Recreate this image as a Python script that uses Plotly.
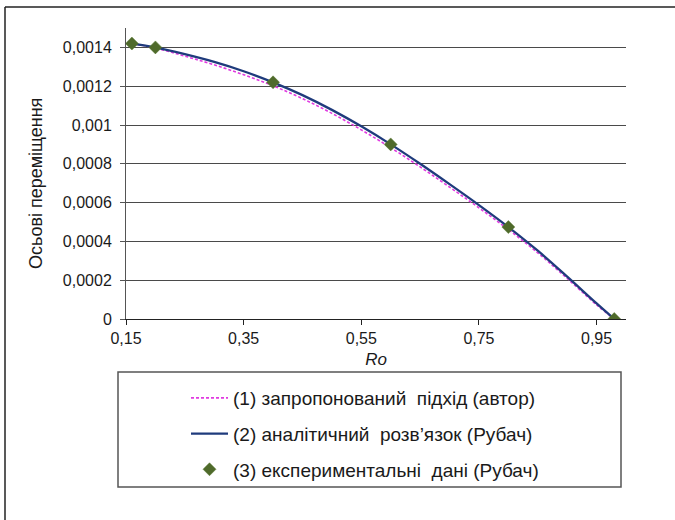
import plotly.graph_objects as go

# Radial coordinate Ro (curve sampling) and axial displacement values
ro_curve = [0.16, 0.20, 0.25, 0.30, 0.35, 0.40, 0.45, 0.50, 0.55, 0.60,
            0.65, 0.70, 0.75, 0.80, 0.85, 0.90, 0.95, 0.98]

# (1) proposed approach (author)
w_proposed = [0.001420, 0.001397, 0.001355, 0.001310, 0.001259, 0.001202,
              0.001136, 0.001060, 0.000975, 0.000883, 0.000784, 0.000680,
              0.000573, 0.000461, 0.000341, 0.000209, 0.000073, 0.0]

# (2) analytical solution (Rubach)
w_analytic = [0.001420, 0.001400, 0.001365, 0.001325, 0.001277, 0.001220,
              0.001154, 0.001078, 0.000993, 0.000900, 0.000800, 0.000695,
              0.000587, 0.000474, 0.000352, 0.000218, 0.000080, 0.0]

# (3) experimental data (Rubach)
ro_exp = [0.16, 0.20, 0.40, 0.60, 0.80, 0.98]
w_exp = [0.00142, 0.00140, 0.00122, 0.00090, 0.000474, 0.0]

x_tick_vals = [0.15, 0.35, 0.55, 0.75, 0.95]
x_tick_text = ["0,15", "0,35", "0,55", "0,75", "0,95"]
y_tick_vals = [0.0, 0.0002, 0.0004, 0.0006, 0.0008, 0.0010, 0.0012, 0.0014]
y_tick_text = ["0", "0,0002", "0,0004", "0,0006", "0,0008", "0,001",
               "0,0012", "0,0014"]

names = [
    "(1) запропонований\u00a0 підхід (автор)",
    "(2) аналітичний\u00a0 розв’язок (Рубач)",
    "(3) експериментальні\u00a0 дані (Рубач)",
]

FONT = "Liberation Sans, Arial, sans-serif"
TXT = "#1a1a1a"

fig = go.Figure()
fig.add_trace(go.Scatter(
    x=ro_curve, y=w_proposed, mode="lines", name=names[0], legendgroup="a",
    line=dict(color="#e03ae0", width=1.6, dash="3px,2px", shape="spline"),
))
fig.add_trace(go.Scatter(
    x=ro_curve, y=w_analytic, mode="lines", name=names[1], legendgroup="b",
    line=dict(color="#1f3b7c", width=2.3, shape="spline"),
))
fig.add_trace(go.Scatter(
    x=ro_exp, y=w_exp, mode="markers", name=names[2], legendgroup="c",
    marker=dict(symbol="diamond", size=10, color="#4f6a2b",
                line=dict(color="#5b7a35", width=0.5)),
))

# plot area: x 126..626 px, y 28..319 px
L, R, T, B = 126, 626, 28, 319
W, H = 675, 520


def px(x):
    return (x - L) / (R - L)


def py(y):
    return (B - y) / (B - T)


shapes = [
    # outer chart frame
    dict(type="line", xref="paper", yref="paper", x0=px(5), x1=px(690),
         y0=py(7), y1=py(7), line=dict(color="#222", width=1.5)),
    dict(type="line", xref="paper", yref="paper", x0=px(5), x1=px(5),
         y0=py(7), y1=py(540), line=dict(color="#222", width=1.5)),
    # legend frame
    dict(type="rect", xref="paper", yref="paper", x0=px(118), x1=px(621),
         y0=py(372), y1=py(487), line=dict(color="#555", width=1.5),
         fillcolor="rgba(0,0,0,0)"),
]

annotations = [
    dict(text="Осьові переміщення", xref="paper", yref="paper",
         x=px(36), y=py(184), xanchor="center", yanchor="middle",
         textangle=-90, showarrow=False,
         font=dict(family=FONT, size=18, color=TXT)),
]

fig.update_layout(
    width=W, height=H,
    margin=dict(l=L, r=W - R, t=T, b=H - B),
    paper_bgcolor="white", plot_bgcolor="white",
    font=dict(family=FONT, size=16, color=TXT),
    showlegend=True,
    legend=dict(
        x=px(186), y=py(379), xanchor="left", yanchor="top",
        traceorder="grouped", tracegroupgap=8, itemwidth=37,
        font=dict(family=FONT, size=19, color=TXT),
        bgcolor="rgba(0,0,0,0)", borderwidth=0,
    ),
    shapes=shapes,
    annotations=annotations,
    xaxis=dict(
        range=[0.15, 1.0], tickvals=x_tick_vals, ticktext=x_tick_text,
        showgrid=False, zeroline=False, showline=True, linecolor="#222",
        linewidth=1, ticks="outside", ticklen=5, tickcolor="#222",
        title=dict(text="<i>Ro</i>", standoff=6,
                   font=dict(family=FONT, size=17, color=TXT)),
    ),
    yaxis=dict(
        range=[0, 0.0015], tickvals=y_tick_vals, ticktext=y_tick_text,
        showgrid=True, gridcolor="#4a4a4a", gridwidth=1, zeroline=False,
        showline=True, linecolor="#555", linewidth=1, ticks="outside",
        ticklen=5, tickcolor="#555", ticklabelstandoff=5,
    ),
)

fig.write_html("out.html")
